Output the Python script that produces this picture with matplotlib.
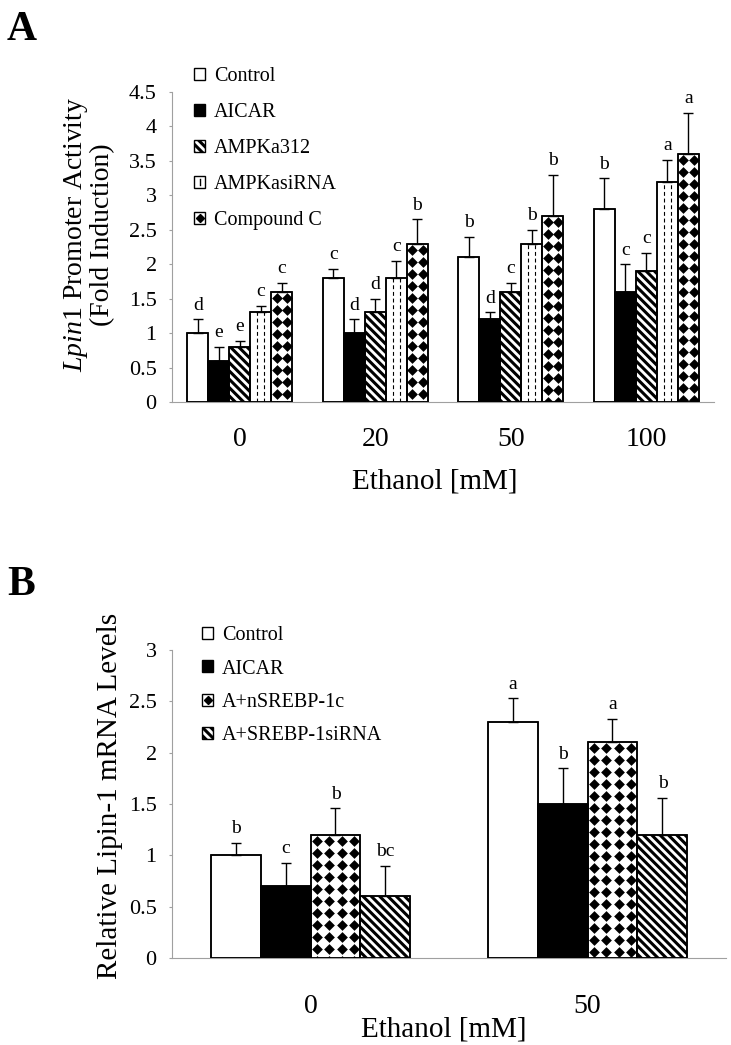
import numpy as np
import matplotlib
matplotlib.use('Agg')
import matplotlib.pyplot as plt
from matplotlib.patches import Patch, Rectangle
from matplotlib.lines import Line2D
from matplotlib.legend_handler import HandlerBase

plt.rcParams['font.family'] = ['Liberation Serif', 'DejaVu Serif']
plt.rcParams['mathtext.fontset'] = 'custom'
plt.rcParams['mathtext.rm'] = 'Liberation Serif'
plt.rcParams['mathtext.it'] = 'Liberation Serif:italic'
plt.rcParams['hatch.linewidth'] = 2.2

# ---- panel A data: Lpin1 promoter activity (fold induction)
doses_a = ['0', '20', '50', '100']
names_a = ['Control', 'AICAR', 'AMPKa312', 'AMPKasiRNA', 'Compound C']
ctrl_a = [1.0, 1.8, 2.1, 2.8]
aicar_a = [0.6, 1.0, 1.2, 1.6]
ampk312_a = [0.8, 1.3, 1.6, 1.9]
ampksi_a = [1.3, 1.8, 2.3, 3.2]
compc_a = [1.6, 2.3, 2.7, 3.6]
ctrl_a_err = [0.2, 0.13, 0.3, 0.45]
aicar_a_err = [0.2, 0.2, 0.1, 0.4]
ampk312_a_err = [0.09, 0.2, 0.13, 0.27]
ampksi_a_err = [0.1, 0.25, 0.2, 0.32]
compc_a_err = [0.13, 0.35, 0.6, 0.6]
ctrl_a_lab = ['d', 'c', 'b', 'b']
aicar_a_lab = ['e', 'd', 'd', 'c']
ampk312_a_lab = ['e', 'd', 'c', 'c']
ampksi_a_lab = ['c', 'c', 'b', 'a']
compc_a_lab = ['c', 'b', 'b', 'a']

# ---- panel B data: relative Lipin-1 mRNA levels
doses_b = ['0', '50']
names_b = ['Control', 'AICAR', 'A+nSREBP-1c', 'A+SREBP-1siRNA']
ctrl_b = [1.0, 2.3]
aicar_b = [0.7, 1.5]
nsrebp_b = [1.2, 2.1]
srebpsi_b = [0.6, 1.2]
ctrl_b_err = [0.12, 0.23]
aicar_b_err = [0.23, 0.35]
nsrebp_b_err = [0.26, 0.23]
srebpsi_b_err = [0.3, 0.36]
ctrl_b_lab = ['b', 'a']
aicar_b_lab = ['c', 'b']
nsrebp_b_lab = ['b', 'a']
srebpsi_b_lab = ['bc', 'b']


class SwatchHandler(HandlerBase):
    # small legend square for the textures that hatch can't do
    def __init__(self, kind):
        super().__init__()
        self.kind = kind

    def create_artists(self, legend, orig_handle, xdescent, ydescent,
                       width, height, fontsize, trans):
        x0, y0 = -xdescent, -ydescent
        arts = [Rectangle((x0, y0), width, height, facecolor='white',
                          edgecolor='black', lw=1.0, transform=trans)]
        if self.kind == 'dash':
            arts.append(Line2D([x0 + width / 2] * 2,
                               [y0 + 0.25 * height, y0 + 0.75 * height],
                               color='black', lw=1.0, transform=trans))
        else:
            arts.append(Line2D([x0 + width / 2], [y0 + height / 2], marker='D',
                               ms=4.5, color='black', ls='none', transform=trans))
        return arts


def fill_diamonds(ax, bar, step=12.0, size=30):
    x0, y0 = bar.get_x(), bar.get_y()
    (px0, py0), (px1, py1) = ax.transData.transform(
        [(x0, y0), (x0 + bar.get_width(), y0 + bar.get_height())])
    ncol = max(1, int(round((px1 - px0) / step)))
    xs = px0 + (np.arange(ncol) + 0.5) * (px1 - px0) / ncol
    ys = np.arange(py1 - step / 2, py0 - step, -step)
    gx, gy = np.meshgrid(xs, ys)
    pts = ax.transData.inverted().transform(np.column_stack([gx.ravel(), gy.ravel()]))
    sc = ax.scatter(pts[:, 0], pts[:, 1], marker='D', s=size, c='black',
                    linewidths=0, zorder=2)
    sc.set_clip_path(bar)


def fill_dashes(ax, bar, step=8.0):
    x0, y0 = bar.get_x(), bar.get_y()
    (px0, _), (px1, _) = ax.transData.transform(
        [(x0, y0), (x0 + bar.get_width(), y0 + bar.get_height())])
    n = max(1, int(round((px1 - px0) / step)))
    xs_px = px0 + np.arange(1, n) * (px1 - px0) / n
    xs = ax.transData.inverted().transform(np.column_stack([xs_px, np.zeros_like(xs_px)]))[:, 0]
    lc = ax.vlines(xs, y0, y0 + bar.get_height(), colors='black', lw=0.8,
                   linestyles=(0, (3.5, 2.5)), zorder=2)
    lc.set_clip_path(bar)


def draw_panel(ax, doses, vals, errs, labs, kinds, width, capsize):
    x = np.arange(len(doses))
    n = len(vals)
    for i in range(n):
        xi = x + (i - (n - 1) / 2) * width
        kind = kinds[i]
        face = 'black' if kind == 'solid' else 'white'
        hatch = '\\\\\\\\' if kind == 'stripe' else None
        bars = ax.bar(xi, vals[i], width, color=face, edgecolor='black',
                      lw=1.1, hatch=hatch, zorder=1)
        for b in bars:
            if kind == 'diamond':
                fill_diamonds(ax, b)
            elif kind == 'dash':
                fill_dashes(ax, b)
        # outline again on top of the textures
        ax.bar(xi, vals[i], width, fill=False, edgecolor='black', lw=1.1, zorder=3)
        ax.errorbar(xi, vals[i], yerr=[np.zeros(len(xi)), errs[i]], fmt='none',
                    ecolor='black', elinewidth=1.0, capsize=capsize, capthick=1.0,
                    zorder=4)
        for xx, v, e, t in zip(xi, vals[i], errs[i], labs[i]):
            ax.annotate(t, (xx, v + e), xytext=(0, 4), textcoords='offset points',
                        ha='center', va='bottom', fontsize=14)
    ax.set_xticks(x)
    ax.set_xticklabels(doses, fontsize=20)
    for s in ['top', 'right']:
        ax.spines[s].set_visible(False)
    for s in ['left', 'bottom']:
        ax.spines[s].set_color('#a0a0a0')
        ax.spines[s].set_linewidth(0.8)
    ax.tick_params(axis='y', direction='out', length=2.5, width=0.8,
                   color='#a0a0a0', labelsize=16, pad=8.5)


def legend_handles(kinds):
    handles, hmap = [], {}
    for kind in kinds:
        if kind in ('dash', 'diamond'):
            h = Patch(facecolor='white', edgecolor='black')
            hmap[h] = SwatchHandler(kind)
        else:
            h = Patch(facecolor='black' if kind == 'solid' else 'white',
                      edgecolor='black', lw=1.0,
                      hatch='\\\\\\\\' if kind == 'stripe' else None)
        handles.append(h)
    return handles, hmap


fig = plt.figure(figsize=(7.31, 10.45), dpi=100)
W, H = 731.0, 1045.0

# ---------------- panel A
axA = fig.add_axes([172 / W, 1 - 402 / H, 542 / W, 310 / H])
axA.set_xlim(-0.5, 3.5)
axA.set_ylim(0, 4.5)
axA.set_yticks(np.arange(0, 4.51, 0.5))
axA.set_yticklabels(['0', '0.5', '1', '1.5', '2', '2.5', '3', '3.5', '4', '4.5'])
kinds_a = ['plain', 'solid', 'stripe', 'dash', 'diamond']
draw_panel(axA, doses_a,
           [ctrl_a, aicar_a, ampk312_a, ampksi_a, compc_a],
           [ctrl_a_err, aicar_a_err, ampk312_a_err, ampksi_a_err, compc_a_err],
           [ctrl_a_lab, aicar_a_lab, ampk312_a_lab, ampksi_a_lab, compc_a_lab],
           kinds_a, 0.155, 3.3)
axA.tick_params(axis='x', length=0, pad=18)
axA.set_ylabel('$\\mathit{Lpin1}$ Promoter Activity\n(Fold Induction)',
               fontsize=20, linespacing=1.0)
axA.yaxis.set_label_coords(-0.105, 0.54)
axA.set_xlabel('Ethanol [mM]', fontsize=21)
axA.xaxis.set_label_coords(0.485, -0.215)
hA, mA = legend_handles(kinds_a)
fig.legend(hA, names_a, handler_map=mA, loc='upper left',
           bbox_to_anchor=(194 / W, 1 - 67 / H), frameon=False, fontsize=14.5,
           handlelength=0.55, handleheight=0.55, handletextpad=0.45,
           labelspacing=0.85, borderpad=0, borderaxespad=0)

# ---------------- panel B
axB = fig.add_axes([172 / W, 1 - 958 / H, 554 / W, 308 / H])
axB.set_xlim(-0.5, 1.5)
axB.set_ylim(0, 3)
axB.set_yticks(np.arange(0, 3.01, 0.5))
axB.set_yticklabels(['0', '0.5', '1', '1.5', '2', '2.5', '3'])
kinds_b = ['plain', 'solid', 'diamond', 'stripe']
draw_panel(axB, doses_b,
           [ctrl_b, aicar_b, nsrebp_b, srebpsi_b],
           [ctrl_b_err, aicar_b_err, nsrebp_b_err, srebpsi_b_err],
           [ctrl_b_lab, aicar_b_lab, nsrebp_b_lab, srebpsi_b_lab],
           kinds_b, 0.1805, 3.8)
axB.tick_params(axis='x', length=0, pad=26)
axB.set_ylabel('Relative Lipin-1 mRNA Levels', fontsize=21)
axB.yaxis.set_label_coords(-0.088, 0.526)
axB.set_xlabel('Ethanol [mM]', fontsize=21)
axB.xaxis.set_label_coords(0.49, -0.19)
hB, mB = legend_handles(kinds_b)
fig.legend(hB, names_b, handler_map=mB, loc='upper left',
           bbox_to_anchor=(202 / W, 1 - 626 / H), frameon=False, fontsize=14.5,
           handlelength=0.55, handleheight=0.55, handletextpad=0.45,
           labelspacing=0.72, borderpad=0, borderaxespad=0)

fig.text(7 / W, 1 - 40 / H, 'A', fontsize=30, fontweight='bold', va='baseline')
fig.text(7 / W, 1 - 595 / H, 'B', fontsize=30, fontweight='bold', va='baseline')

fig.savefig('out.png', dpi=100)
